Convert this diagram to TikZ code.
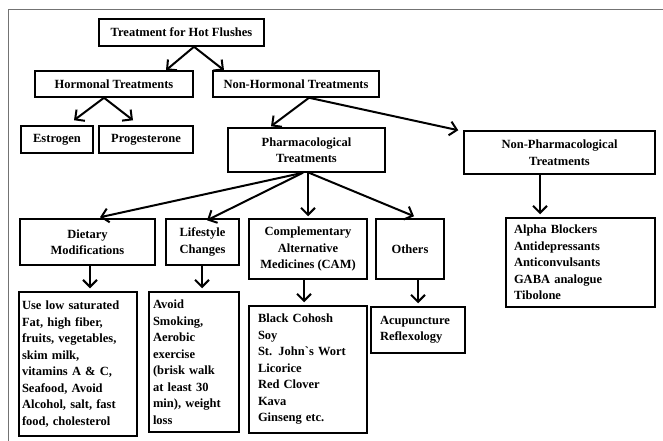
\documentclass[tikz,border=0pt]{standalone}
\usepackage{fontspec}
\setmainfont{Liberation Serif}
\usepackage{tikz}
\usetikzlibrary{arrows.meta}
\usetikzlibrary{positioning,calc}
\def\BoxLW{1.5pt}
\def\ArrLW{2pt}
\tikzset{
	box/.style={draw, line width=\BoxLW, inner sep=0pt, align=center,
		font=\bfseries\fontsize{12.5}{16.5}\selectfont},
	listbox/.style={box, align=left},
	arr/.style={line width=\ArrLW, -{Straight Barb[length=7pt,width=14pt]}},
	frameline/.style={draw=black!55, line width=0.8pt}
}

\begin{document}
\begin{tikzpicture}[x=1pt,y=-1pt]
	\useasboundingbox (0,0) rectangle (663,441);
	\draw[frameline] (8,441) -- (8,9) -- (663,9);
	% top levels
	\node[box,minimum width=165pt,minimum height=27pt] (title) at (181.5,32.5) {Treatment for Hot Flushes};
	\node[box,minimum width=158pt,minimum height=26pt] (horm) at (114,84) {Hormonal Treatments};
	\node[box,minimum width=166pt,minimum height=26pt] (nonhorm) at (296,84) {Non-Hormonal Treatments};
	\node[box,minimum width=72pt,minimum height=27pt] (estr) at (57,139.5) {Estrogen};
	\node[box,minimum width=94pt,minimum height=27pt] (prog) at (146,139.5) {Progesterone};
	\node[box,minimum width=157pt,minimum height=44pt] (pharm) at (306.5,150) {Pharmacological\\Treatments};
	\node[box,minimum width=191pt,minimum height=43pt] (nonpharm) at (559.5,152.5) {Non-Pharmacological\\Treatments};
	% groups
	\node[box,minimum width=135pt,minimum height=46pt] (diet) at (87.5,242) {Dietary\\Modifications};
	\node[box,minimum width=73pt,minimum height=46pt] (life) at (202.5,242) {Lifestyle\\Changes};
	\node[box,minimum width=118pt,minimum height=60pt] (cam) at (308,249) {Complementary\\Alternative\\Medicines (CAM)};
	\node[box,minimum width=68pt,minimum height=60pt] (others) at (410,249) {Others};
	% lists
	\node[listbox,text width=112pt,inner xsep=3pt,minimum height=144pt] (uselow) at (78,364)
		{Use low saturated\\Fat, high fiber,\\fruits, vegetables,\\skim milk,\\vitamins A \& C,\\Seafood, Avoid\\Alcohol, salt, fast\\food, cholesterol};
	\node[listbox,text width=82pt,inner xsep=4pt,minimum height=140pt] (avoid) at (194,362)
		{Avoid\\Smoking,\\Aerobic\\exercise\\(brisk walk\\at least 30\\min), weight\\loss};
	\node[listbox,text width=100pt,inner xsep=9pt,minimum height=127pt] (black) at (308,369.5)
		{Black Cohosh\\Soy\\St. John\textasciigrave s Wort\\Licorice\\Red Clover\\Kava\\Ginseng etc.};
	\node[listbox,text width=76pt,inner xsep=9pt,minimum height=46pt] (acup) at (418,330)
		{Acupuncture\\Reflexology};
	\node[listbox,text width=133pt,inner xsep=8pt,minimum height=89pt] (alpha) at (580.5,262.5)
		{Alpha Blockers\\Antidepressants\\Anticonvulsants\\GABA analogue\\Tibolone};
	% arrows
	\draw[arr] ([xshift=12.5pt]title.south) -- ([xshift=52pt]horm.north);
	\draw[arr] ([xshift=12.5pt]title.south) -- ([xshift=-72pt]nonhorm.north);
	\draw[arr] ([xshift=-10pt]horm.south) -- ([xshift=17pt,yshift=5pt]estr.north);
	\draw[arr] ([xshift=-10pt]horm.south) -- ([xshift=-13pt,yshift=5pt]prog.north);
	\draw[arr] ([xshift=13pt]nonhorm.south) -- ([xshift=-35.5pt,yshift=1pt]pharm.north);
	\draw[arr] ([xshift=13pt]nonhorm.south) -- ([xshift=-5pt]nonpharm.north west);
	\draw[arr] ([xshift=-3.5pt]pharm.south) -- ([xshift=12.5pt,yshift=1pt]diet.north);
	\draw[arr] ([xshift=-3.5pt]pharm.south) -- ([xshift=4.5pt,yshift=-2pt]life.north);
	\draw[arr] ([xshift=1.5pt]pharm.south) -- ([yshift=2pt]cam.north);
	\draw[arr] ([xshift=2.5pt]pharm.south) -- ([xshift=4pt,yshift=2pt]others.north);
	\draw[arr] ([xshift=-19.5pt]nonpharm.south) -- ([xshift=-40.5pt,yshift=3pt]alpha.north);
	\draw[arr] ([xshift=2.5pt]diet.south) -- ([xshift=12pt,yshift=3pt]uselow.north);
	\draw[arr] ([xshift=-0.5pt]life.south) -- ([xshift=8pt,yshift=3pt]avoid.north);
	\draw[arr] ([xshift=-4pt]cam.south) -- ([xshift=-4pt,yshift=3pt]black.north);
	\draw[arr] ([xshift=8pt]others.south) -- ([yshift=3pt]acup.north);
\end{tikzpicture}
\end{document}
